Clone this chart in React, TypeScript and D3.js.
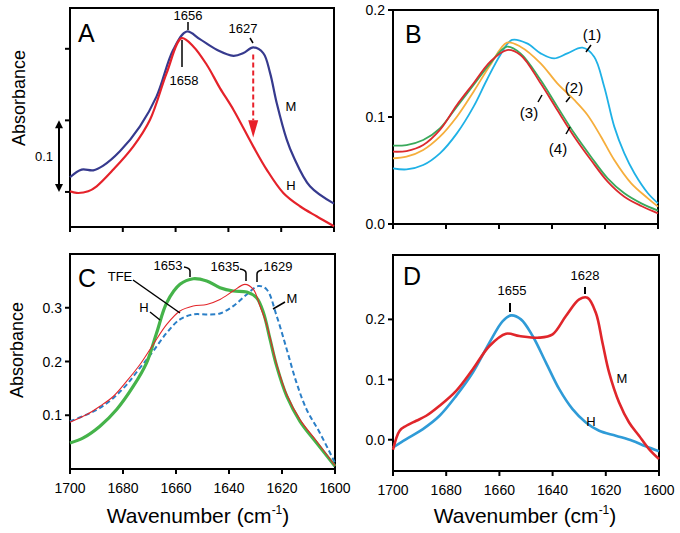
import React from 'react';
import * as d3 from 'd3';

// x ticks shared by all four panels
const xTicks = [1700, 1680, 1660, 1640, 1620, 1600];
const xTickLabels = ['1700', '1680', '1660', '1640', '1620', '1600'];

// Panel A : M and H spectra
const aMWn = [1700, 1695.6, 1691.2, 1687.4, 1681.1, 1673.5, 1667.2, 1660.9, 1655.8, 1650.8, 1644.4, 1638.1, 1634.3, 1630.6, 1626.8, 1624.2, 1621.7, 1617.9, 1615.4, 1609.1, 1600];
const aMAbs = [0.1205, 0.1312, 0.1302, 0.1367, 0.1567, 0.1916, 0.2335, 0.2986, 0.3242, 0.3135, 0.2986, 0.2902, 0.294, 0.3019, 0.294, 0.266, 0.2242, 0.173, 0.1498, 0.1079, 0.0837];
const aHWn = [1700, 1697.5, 1693.1, 1689.9, 1683.6, 1676.0, 1669.7, 1663.4, 1657.7, 1653.3, 1648.2, 1643.2, 1638.1, 1630.6, 1625.5, 1619.2, 1612.9, 1606.6, 1600];
const aHAbs = [0.1009, 0.0986, 0.1009, 0.1079, 0.1312, 0.1637, 0.2009, 0.266, 0.3149, 0.3033, 0.2777, 0.2451, 0.2149, 0.1637, 0.1312, 0.0986, 0.08, 0.066, 0.052];
const aYTicks = [0.1, 0.2, 0.3];

// Panel B : four spectra (1)-(4)
const bWn = [1700, 1694.9, 1688.6, 1682.3, 1675.9, 1669.6, 1663.3, 1657.0, 1651.9, 1644.3, 1638.0, 1631.6, 1625.3, 1619.0, 1612.7, 1606.3, 1600];
const b1Wn = [1700, 1694.9, 1688.6, 1682.3, 1675.9, 1669.6, 1664.6, 1659.5, 1655.1, 1649.4, 1644.3, 1639.2, 1634.2, 1628.5, 1624.1, 1620.3, 1616.5, 1612.7, 1608.9, 1603.8, 1600];
const b1Abs = [0.052, 0.051, 0.0551, 0.066, 0.0847, 0.1097, 0.1346, 0.158, 0.172, 0.1688, 0.1595, 0.1548, 0.1595, 0.1648, 0.1564, 0.1283, 0.091, 0.066, 0.0474, 0.0287, 0.0193];
const b2Wn = [1700, 1694.9, 1688.6, 1682.3, 1675.9, 1669.6, 1663.3, 1657.0, 1651.9, 1644.3, 1638.0, 1631.6, 1626.6, 1621.5, 1616.5, 1610.1, 1603.8, 1600];
const b2Abs = [0.0614, 0.0629, 0.0692, 0.0816, 0.1003, 0.1237, 0.1486, 0.1695, 0.1657, 0.1502, 0.1315, 0.1159, 0.1019, 0.0816, 0.0598, 0.038, 0.024, 0.0162];
const b3Abs = [0.0732, 0.0738, 0.0785, 0.0894, 0.1097, 0.1299, 0.1502, 0.1657, 0.1595, 0.1346, 0.1097, 0.0847, 0.0629, 0.0427, 0.0287, 0.0193, 0.0125];
const b4Abs = [0.0676, 0.0682, 0.0738, 0.0879, 0.1112, 0.1315, 0.1517, 0.1626, 0.158, 0.1315, 0.1065, 0.0816, 0.0598, 0.0396, 0.0255, 0.0168, 0.01];
const bYTicks = [0.0, 0.1, 0.2];
const bYTickLabels = ['0.0', '0.1', '0.2'];

// Panel C : TFE, H and M spectra
const cTfeWn = [1700, 1695, 1688.7, 1682.4, 1676.1, 1671.1, 1667.3, 1663.5, 1658.5, 1653.5, 1648.4, 1643.4, 1638.4, 1633.3, 1629.6, 1627.0, 1624.5, 1622.0, 1618.2, 1613.2, 1606.9, 1600];
const cTfeAbs = [0.0484, 0.0578, 0.0795, 0.1106, 0.154, 0.1975, 0.2534, 0.3093, 0.3435, 0.354, 0.3497, 0.3373, 0.3311, 0.3292, 0.3186, 0.2907, 0.241, 0.1913, 0.1354, 0.0888, 0.0484, 0.005];
const cHWn = [1700, 1693.7, 1688.7, 1683.6, 1678.6, 1673.6, 1668.6, 1663.5, 1658.5, 1653.5, 1648.4, 1643.4, 1638.4, 1634.0, 1630.8, 1628.3, 1625.8, 1622.0, 1618.2, 1613.2, 1606.9, 1600];
const cHAbs = [0.087, 0.1012, 0.1168, 0.1354, 0.1634, 0.1944, 0.2317, 0.2689, 0.2938, 0.3031, 0.3062, 0.3155, 0.3311, 0.3435, 0.3342, 0.3031, 0.2689, 0.1944, 0.1385, 0.0919, 0.0516, 0.006];
const cMWn = [1700, 1693.7, 1688.7, 1683.6, 1678.6, 1673.6, 1668.6, 1663.5, 1658.5, 1653.5, 1648.4, 1643.4, 1638.4, 1633.3, 1628.9, 1625.8, 1622.0, 1618.2, 1614.5, 1610.7, 1605.7, 1600];
const cMAbs = [0.0888, 0.1012, 0.1137, 0.1323, 0.1571, 0.1882, 0.2193, 0.2534, 0.2783, 0.2876, 0.2876, 0.2894, 0.3031, 0.3248, 0.3404, 0.3342, 0.2845, 0.2224, 0.1602, 0.1106, 0.0671, 0.0112];
const cYTicks = [0.1, 0.2, 0.3];
const cYTickLabels = ['0.1', '0.2', '0.3'];

// Panel D : H and M spectra
const dHWn = [1700, 1695, 1688.75, 1682.5, 1676.25, 1670, 1663.75, 1658.75, 1655.6, 1651.9, 1647.5, 1642.5, 1637.5, 1632.5, 1627.5, 1622.5, 1616.25, 1610, 1605, 1600];
const dHAbs = [-0.0127, 0.0011, 0.0177, 0.0398, 0.0729, 0.1116, 0.1613, 0.1972, 0.2066, 0.2, 0.1724, 0.1282, 0.084, 0.0508, 0.0287, 0.0149, 0.0066, -0.0017, -0.011, -0.0193];
const dMWn = [1700, 1697.5, 1695, 1691.25, 1687.5, 1682.5, 1676.25, 1670, 1663.75, 1657.5, 1652.5, 1645, 1640, 1635, 1630, 1626.9, 1623.75, 1621.25, 1618.75, 1615, 1611.25, 1607.5, 1603.75, 1600];
const dMAbs = [-0.0166, 0.0149, 0.0232, 0.0315, 0.0398, 0.0564, 0.0812, 0.1171, 0.1558, 0.1762, 0.1724, 0.1696, 0.1751, 0.2055, 0.2331, 0.2359, 0.211, 0.1613, 0.1116, 0.0619, 0.0287, 0.0066, -0.0155, -0.032];
const dYTicks = [0.0, 0.1, 0.2];
const dYTickLabels = ['0.0', '0.1', '0.2'];

const FONT = '"Liberation Sans", Arial, Helvetica, sans-serif';

type Scale = d3.ScaleLinear<number, number>;

const makeLine = (x: Scale, y: Scale, wn: number[], abs: number[]) =>
  d3.line<number>()
    .x((_, i) => x(wn[i]))
    .y(d => y(d))
    .curve(d3.curveCatmullRom.alpha(0.5))(abs) || '';

// frame + ticks for one panel
const Frame = ({ x, y, yTicks, yLabels, xLabels }: { x: Scale; y: Scale; yTicks: number[]; yLabels?: string[]; xLabels?: string[] }) => {
  const [x0, x1] = x.range();
  const [y1, y0] = y.range();
  return (
    <g>
      <rect x={x0} y={y0} width={x1 - x0} height={y1 - y0} fill="none" stroke="#000" strokeWidth={2} />
      {xTicks.map(t => (
        <line key={t} x1={x(t)} x2={x(t)} y1={y1} y2={y1 + 5} stroke="#000" strokeWidth={2} />
      ))}
      {yTicks.map(t => (
        <line key={t} x1={x0 - 5} x2={x0} y1={y(t)} y2={y(t)} stroke="#000" strokeWidth={2} />
      ))}
      {yLabels && yTicks.map((t, i) => (
        <text key={t} x={x0 - 8} y={y(t) + 5} textAnchor="end" fontSize={14} fontFamily={FONT}>{yLabels[i]}</text>
      ))}
      {xLabels && xTicks.map((t, i) => (
        <text key={t} x={x(t)} y={y1 + 24} textAnchor="middle" fontSize={14} fontFamily={FONT}>{xLabels[i]}</text>
      ))}
    </g>
  );
};

const App = () => {
  const xA = d3.scaleLinear().domain([1700, 1600]).range([70, 334]);
  const yA = d3.scaleLinear().domain([0.051, 0.357]).range([227, 8]);
  const xB = d3.scaleLinear().domain([1700, 1600]).range([393, 658]);
  const yB = d3.scaleLinear().domain([0, 0.2]).range([224, 10]);
  const xC = d3.scaleLinear().domain([1700, 1600]).range([70, 335]);
  const yC = d3.scaleLinear().domain([0, 0.4]).range([469, 254]);
  const xD = d3.scaleLinear().domain([1700, 1600]).range([393, 659]);
  const yD = d3.scaleLinear().domain([-0.052, 0.307]).range([471, 255]);

  const txt = (x: number, y: number, s: string, size = 13, anchor = 'middle') => (
    <text x={x} y={y} fontSize={size} textAnchor={anchor} fontFamily={FONT}>{s}</text>
  );

  const arrowX = xA(1630.6);
  const barX = 59;

  return (
    <svg width={680} height={533} style={{ position: 'absolute', left: 0, top: 0, background: '#fff' }}>
      <defs>
        <marker id="headRed" viewBox="0 0 10 10" refX={5} refY={2} markerWidth={9} markerHeight={16} orient="auto" markerUnits="userSpaceOnUse">
          <path d="M0,0 L10,0 L5,10 Z" fill="#e8202a" />
        </marker>
      </defs>

      {/* Panel A */}
      <g>
        <Frame x={xA} y={yA} yTicks={aYTicks} />
        <path d={makeLine(xA, yA, aMWn, aMAbs)} fill="none" stroke="#363a8e" strokeWidth={2.2} />
        <path d={makeLine(xA, yA, aHWn, aHAbs)} fill="none" stroke="#e5222a" strokeWidth={2.2} />
        <text x={78} y={42} fontSize={25} fontFamily={FONT}>A</text>
        {txt(188, 20, '1656')}
        <line x1={188} x2={188} y1={22} y2={30} stroke="#000" strokeWidth={1.5} />
        {txt(184, 85, '1658')}
        <line x1={182} x2={182} y1={40} y2={67} stroke="#000" strokeWidth={1.5} />
        {txt(243, 33, '1627')}
        <line x1={250} x2={253} y1={38} y2={43} stroke="#000" strokeWidth={1.5} />
        <line x1={arrowX} x2={arrowX} y1={yA(0.292)} y2={yA(0.2)} stroke="#e8202a" strokeWidth={2} strokeDasharray="5,3" />
        <path d={`M${arrowX - 5},${yA(0.2)} L${arrowX + 5},${yA(0.2)} L${arrowX},${yA(0.176)} Z`} fill="#e8202a" />
        {txt(291, 111, 'M')}
        {txt(291, 190, 'H')}
        <line x1={barX} x2={barX} y1={yA(0.2) + 6} y2={yA(0.1) - 6} stroke="#000" strokeWidth={2} />
        <path d={`M${barX - 4},${yA(0.2) + 8} L${barX + 4},${yA(0.2) + 8} L${barX},${yA(0.2)} Z`} fill="#000" />
        <path d={`M${barX - 4},${yA(0.1) - 8} L${barX + 4},${yA(0.1) - 8} L${barX},${yA(0.1)} Z`} fill="#000" />
        {txt(44, 161, '0.1')}
        <text transform="translate(25,98) rotate(-90)" textAnchor="middle" fontSize={18} fontFamily={FONT}>Absorbance</text>
      </g>

      {/* Panel B */}
      <g>
        <Frame x={xB} y={yB} yTicks={bYTicks} yLabels={bYTickLabels} />
        <path d={makeLine(xB, yB, b1Wn, b1Abs)} fill="none" stroke="#1fb1e6" strokeWidth={1.8} />
        <path d={makeLine(xB, yB, b2Wn, b2Abs)} fill="none" stroke="#f6ae3c" strokeWidth={1.8} />
        <path d={makeLine(xB, yB, bWn, b3Abs)} fill="none" stroke="#3aa95c" strokeWidth={1.8} />
        <path d={makeLine(xB, yB, bWn, b4Abs)} fill="none" stroke="#dc2a2e" strokeWidth={1.8} />
        <text x={405} y={43} fontSize={25} fontFamily={FONT}>B</text>
        {txt(592, 40, '(1)', 15)}
        <line x1={591} x2={586} y1={45} y2={52} stroke="#000" strokeWidth={1.5} />
        {txt(574, 93, '(2)', 15)}
        <line x1={570} x2={566} y1={97} y2={102} stroke="#000" strokeWidth={1.5} />
        {txt(529, 118, '(3)', 15)}
        <line x1={542} x2={538} y1={95} y2={102} stroke="#000" strokeWidth={1.5} />
        {txt(558, 154, '(4)', 15)}
        <line x1={570} x2={566} y1={127} y2={134} stroke="#000" strokeWidth={1.5} />
      </g>

      {/* Panel C */}
      <g>
        <Frame x={xC} y={yC} yTicks={cYTicks} yLabels={cYTickLabels} xLabels={xTickLabels} />
        <path d={makeLine(xC, yC, cMWn, cMAbs)} fill="none" stroke="#2b7fc7" strokeWidth={2} strokeDasharray="5,3" />
        <path d={makeLine(xC, yC, cTfeWn, cTfeAbs)} fill="none" stroke="#45b34a" strokeWidth={3.2} />
        <path d={makeLine(xC, yC, cHWn, cHAbs)} fill="none" stroke="#e3262b" strokeWidth={1.1} />
        <text x={78} y={287} fontSize={25} fontFamily={FONT}>C</text>
        {txt(120, 281, 'TFE', 13)}
        <line x1={133} x2={180} y1={280} y2={313} stroke="#000" strokeWidth={1.5} />
        {txt(144, 312, 'H', 13)}
        <line x1={150} x2={160} y1={312} y2={320} stroke="#000" strokeWidth={1.5} />
        {txt(168, 270, '1653', 13)}
        <path d="M184,267 Q190,268 190,271 L190,277" fill="none" stroke="#000" strokeWidth={1.5} />
        {txt(225, 271, '1635', 13)}
        <path d="M240,269 Q246,270 246,273 L246,281" fill="none" stroke="#000" strokeWidth={1.5} />
        {txt(278, 271, '1629', 13)}
        <path d="M262,270 Q257,271 257,274 L257,282" fill="none" stroke="#000" strokeWidth={1.5} />
        {txt(292, 303, 'M', 13)}
        <line x1={285} x2={273} y1={302} y2={309} stroke="#000" strokeWidth={1.5} />
        <text transform="translate(23,350) rotate(-90)" textAnchor="middle" fontSize={18} fontFamily={FONT}>Absorbance</text>
        <text x={198} y={523} textAnchor="middle" fontSize={21} fontFamily={FONT}>
          Wavenumber (cm<tspan fontSize={12} dy={-9}>-1</tspan><tspan dy={9}>)</tspan>
        </text>
      </g>

      {/* Panel D */}
      <g>
        <Frame x={xD} y={yD} yTicks={dYTicks} yLabels={dYTickLabels} xLabels={xTickLabels} />
        <path d={makeLine(xD, yD, dHWn, dHAbs)} fill="none" stroke="#2f9bd7" strokeWidth={2.6} />
        <path d={makeLine(xD, yD, dMWn, dMAbs)} fill="none" stroke="#e0262b" strokeWidth={2.6} />
        <text x={403} y={285} fontSize={25} fontFamily={FONT}>D</text>
        {txt(512, 295, '1655')}
        <line x1={510} x2={510} y1={303} y2={312} stroke="#000" strokeWidth={2} />
        {txt(585, 280, '1628')}
        <line x1={585} x2={585} y1={287} y2={294} stroke="#000" strokeWidth={2} />
        {txt(622, 383, 'M')}
        {txt(591, 426, 'H')}
        <text x={525} y={523} textAnchor="middle" fontSize={21} fontFamily={FONT}>
          Wavenumber (cm<tspan fontSize={12} dy={-9}>-1</tspan><tspan dy={9}>)</tspan>
        </text>
      </g>
    </svg>
  );
};

export default App;
